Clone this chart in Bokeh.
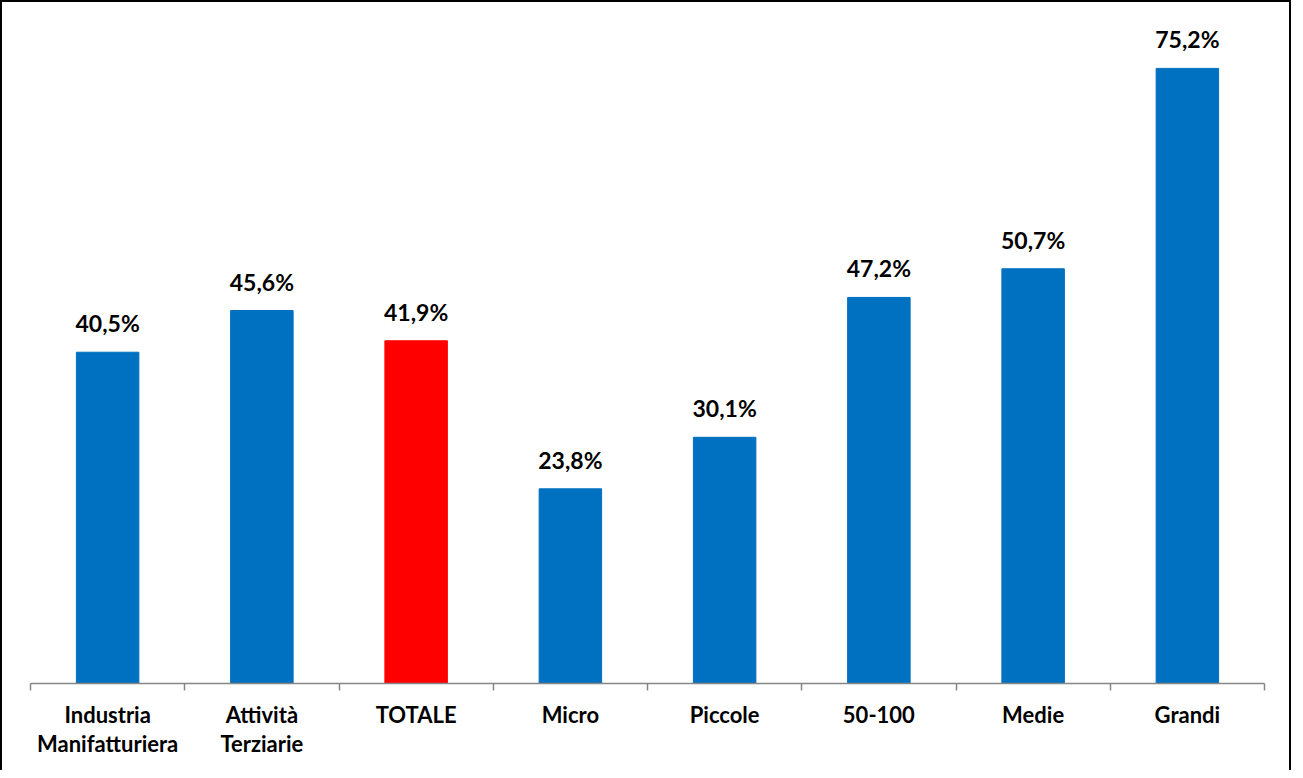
from bokeh.plotting import figure
from bokeh.models import ColumnDataSource, Range1d, FixedTicker, LabelSet
from bokeh.core.properties import value
from bokeh.embed import file_html
from bokeh.resources import INLINE

categories = ["Industria\nManifatturiera", "Attività\nTerziarie", "TOTALE", "Micro",
              "Piccole", "50-100", "Medie", "Grandi"]
values = [40.5, 45.6, 41.9, 23.8, 30.1, 47.2, 50.7, 75.2]
colors = ["#0070C0", "#0070C0", "#FF0000", "#0070C0", "#0070C0", "#0070C0", "#0070C0", "#0070C0"]

xs = [i + 0.5 for i in range(len(categories))]
labels = [f"{v:.1f}%".replace(".", ",") for v in values]
src = ColumnDataSource(dict(x=xs, top=values, color=colors, label=labels))

p = figure(width=1291, height=770, output_backend="svg", toolbar_location=None,
           x_range=Range1d(0, len(categories)), y_range=Range1d(0, 82.4),
           min_border_left=28, min_border_right=29, min_border_top=7, min_border_bottom=89)
p.styles = {"border-top": "2px solid #000000", "border-left": "2px solid #000000",
            "border-right": "2px solid #000000", "box-sizing": "border-box"}
p.outline_line_color = None
p.grid.grid_line_color = None
p.yaxis.visible = False

p.vbar(x="x", top="top", width=0.405, color="color", source=src)

lab = LabelSet(x="x", y="top", text="label", source=src, text_align="center",
               text_baseline="alphabetic", y_offset=20, text_font=value("Lato"),
               text_font_style="bold", text_font_size="23px", text_color="#000000")
p.add_layout(lab)

ax = p.xaxis[0]
ax.ticker = FixedTicker(ticks=xs, minor_ticks=list(range(len(categories) + 1)))
ax.major_label_overrides = {x: c for x, c in zip(xs, categories)}
ax.major_tick_line_color = None
ax.minor_tick_line_color = "#868686"
ax.minor_tick_in = 0
ax.minor_tick_out = 7
ax.axis_line_color = "#868686"
ax.axis_line_width = 1.5
ax.minor_tick_line_width = 1.5
ax.major_label_text_font = "Lato"
ax.major_label_text_font_style = "bold"
ax.major_label_text_font_size = "22px"
ax.major_label_text_color = "#000000"
ax.major_label_text_line_height = 1.1
ax.major_label_standoff = 10

open("out.html", "w").write(file_html(p, INLINE))
